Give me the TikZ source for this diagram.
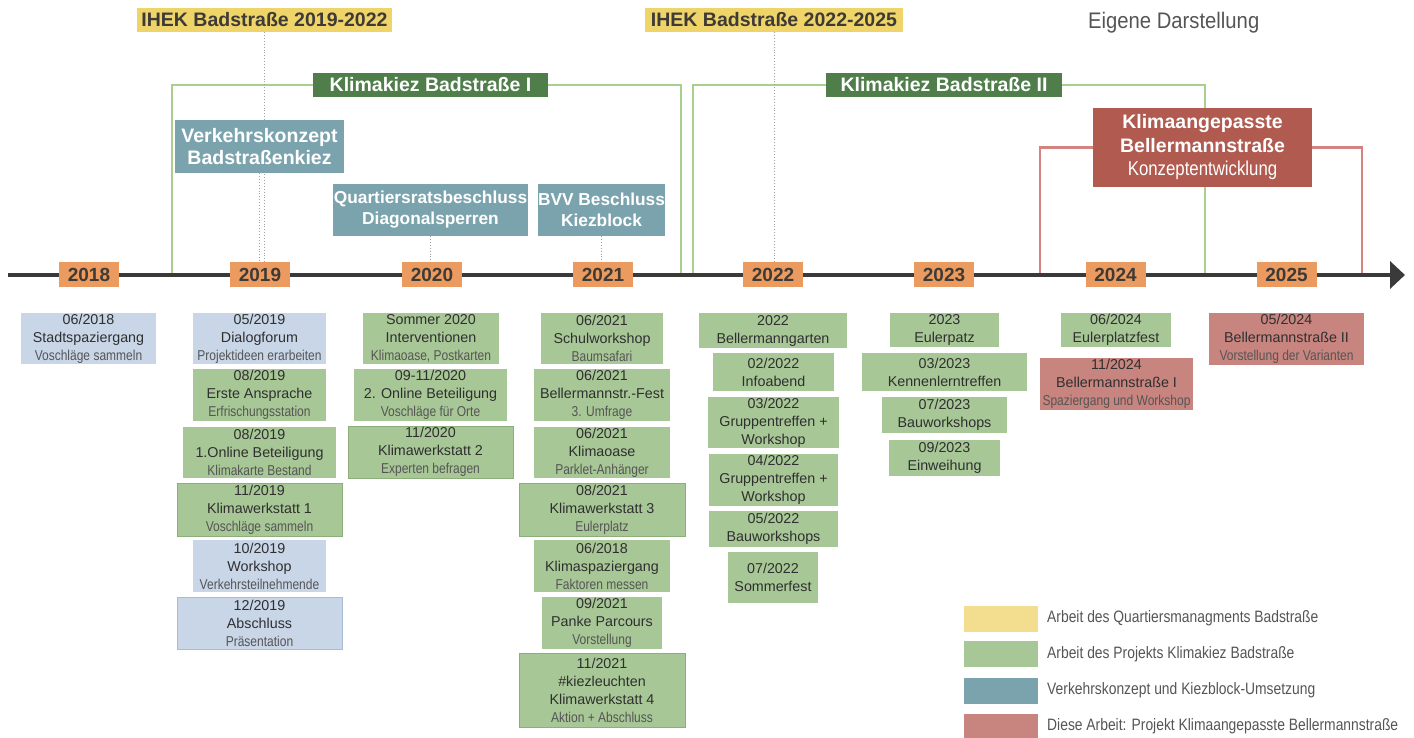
\documentclass[tikz,border=0pt]{standalone}
\usepackage{fontspec}
\setmainfont{Liberation Sans}
\newfontfamily\cond[FakeStretch=0.84]{Liberation Sans}
\newfontfamily\condw[FakeStretch=0.9]{Liberation Sans}
\usetikzlibrary{arrows.meta}
\pgfdeclarelayer{bg}
\pgfsetlayers{bg,main}
\definecolor{evgreen}{HTML}{A8C797}
\definecolor{evgreenbd}{HTML}{8DAE7A}
\definecolor{evblue}{HTML}{C8D6E8}
\definecolor{evbluebd}{HTML}{A9BCD6}
\definecolor{evred}{HTML}{C8847E}
\definecolor{ihekyellow}{HTML}{EFD46A}
\definecolor{legyellow}{HTML}{F2DE8E}
\definecolor{kkdark}{HTML}{4F7E4B}
\definecolor{kline}{HTML}{A9CF8F}
\definecolor{teal}{HTML}{7BA3AE}
\definecolor{kbred}{HTML}{B05A50}
\definecolor{redline}{HTML}{D4837E}
\definecolor{yorange}{HTML}{EB9B5F}
\definecolor{ytxt}{HTML}{3E3A36}
\definecolor{txt}{HTML}{2F2F2F}
\definecolor{subtxt}{HTML}{555555}
\definecolor{tlcol}{HTML}{3A3A3A}
\definecolor{dotcol}{HTML}{A0A0A0}
\newcommand\subl[1]{{\cond\color{subtxt}#1}}
\begin{document}
\begin{tikzpicture}[x=1pt,y=-1pt,
  box/.style={rectangle, draw=none, inner sep=0pt, align=center},
  ev/.style={box, text=txt, font=\fontsize{14.3}{18}\selectfont},
  evg/.style={ev, fill=evgreen},
  evgb/.style={evg, draw=evgreenbd, line width=0.8pt},
  evb/.style={ev, fill=evblue},
  evbb/.style={evb, draw=evbluebd, line width=0.8pt},
  evr/.style={ev, fill=evred},
  yearbox/.style={box, fill=yorange, text=ytxt, font=\bfseries\fontsize{19}{23}\selectfont, minimum width=60pt, minimum height=25pt},
  ihek/.style={box, fill=ihekyellow, text=ytxt, font=\bfseries\fontsize{19.5}{23}\selectfont, minimum height=24pt},
  kk/.style={box, fill=kkdark, text=white, font=\bfseries\fontsize{19.5}{23}\selectfont, minimum height=24pt},
  tealbox/.style={box, fill=teal, text=white, font=\bfseries\fontsize{19.5}{22}\selectfont},
  kline/.style={draw=kline, line width=2.2pt},
  rline/.style={draw=redline, line width=2.2pt},
  dotl/.style={draw=dotcol, dotted, line width=0.9pt},
  legsw/.style={box, minimum width=74pt, minimum height=26pt},
  legtx/.style={anchor=west, inner sep=0pt, text=subtxt, font=\cond\fontsize{16.5}{19}\selectfont}
]
\useasboundingbox (0,0) rectangle (1414,738);

% header boxes
\node[ihek, minimum width=255pt] (ihek1) at (264.5,20) {IHEK Badstraße 2019-2022};
\node[ihek, minimum width=258pt] (ihek2) at (774,20) {IHEK Badstraße 2022-2025};
\node[kk, minimum width=235pt] (kk1) at (430.5,85) {Klimakiez Badstraße I};
\node[kk, minimum width=236pt] (kk2) at (944,85) {Klimakiez Badstraße II};
\node[anchor=west, inner sep=0pt, text=subtxt, font=\condw\fontsize{22.5}{26}\selectfont] (eig) at (1088,23) {Eigene Darstellung};

\node[tealbox, minimum width=169pt, minimum height=53pt] (vk) at (259.5,146.5) {Verkehrskonzept\\Badstraßenkiez};
\node[tealbox, minimum width=195pt, minimum height=52pt, font=\bfseries\fontsize{17.3}{21}\selectfont] (qr) at (430.5,210) {Quartiersratsbeschluss\\Diagonalsperren};
\node[tealbox, minimum width=127pt, minimum height=52pt, font=\bfseries\fontsize{17.3}{21}\selectfont] (bvv) at (601.5,210) {BVV Beschluss\\Kiezblock};
\node[box, fill=kbred, text=white, minimum width=219pt, minimum height=79pt, font=\bfseries\fontsize{19.5}{23.5}\selectfont] (kb) at (1202.5,147.5) {Klimaangepasste\\Bellermannstraße\\{\cond\mdseries\fontsize{20}{23.5}\selectfont Konzeptentwicklung}};

% year boxes
\node[yearbox] (y18) at (89,274.5) {2018};
\node[yearbox] (y19) at (260,274.5) {2019};
\node[yearbox] (y20) at (432,274.5) {2020};
\node[yearbox] (y21) at (603,274.5) {2021};
\node[yearbox] (y22) at (773,274.5) {2022};
\node[yearbox] (y23) at (944,274.5) {2023};
\node[yearbox] (y24) at (1115.5,274.5) {2024};
\node[yearbox] (y25) at (1286.5,274.5) {2025};

% timeline coordinates
\coordinate (tl0) at (8,275);
\coordinate (tl1) at (1405,275);
\coordinate (k1l) at (172,275);
\coordinate (k1r) at (681,275);
\coordinate (k2l) at (693,275);
\coordinate (k2r) at (1205,275);
\coordinate (rl) at (1040,275);
\coordinate (rr) at (1362,275);

% events 2018
\node[evb, minimum width=135pt, minimum height=51pt] (e18a) at (88.5,338.5) {06/2018\\Stadtspaziergang\\\subl{Voschläge sammeln}};
% 2019
\node[evb, minimum width=133pt, minimum height=51pt] (e19a) at (259.5,338.5) {05/2019\\Dialogforum\\\subl{Projektideen erarbeiten}};
\node[evg, minimum width=133pt, minimum height=52pt] (e19b) at (259.5,395) {08/2019\\Erste Ansprache\\\subl{Erfrischungsstation}};
\node[evg, minimum width=153pt, minimum height=51pt] (e19c) at (259.5,452.5) {08/2019\\1.Online Beteiligung\\\subl{Klimakarte Bestand}};
\node[evgb, minimum width=165pt, minimum height=53pt] (e19d) at (259.5,509.5) {11/2019\\Klimawerkstatt 1\\\subl{Voschläge sammeln}};
\node[evb, minimum width=133pt, minimum height=52pt] (e19e) at (259.5,566) {10/2019\\Workshop\\\subl{Verkehrsteilnehmende}};
\node[evbb, minimum width=165pt, minimum height=52pt] (e19f) at (259.5,623) {12/2019\\Abschluss\\\subl{Präsentation}};
% 2020
\node[evg, minimum width=136pt, minimum height=51pt] (e20a) at (431,338.5) {Sommer 2020\\Interventionen\\\subl{Klimaoase, Postkarten}};
\node[evg, minimum width=153pt, minimum height=52pt] (e20b) at (430.5,395) {09-11/2020\\2. Online Beteiligung\\\subl{Voschläge für Orte}};
\node[evgb, minimum width=165pt, minimum height=52pt] (e20c) at (430.5,452) {11/2020\\Klimawerkstatt 2\\\subl{Experten befragen}};
% 2021
\node[evg, minimum width=122pt, minimum height=51pt] (e21a) at (602,338.5) {06/2021\\Schulworkshop\\\subl{Baumsafari}};
\node[evg, minimum width=136pt, minimum height=52pt] (e21b) at (602,395) {06/2021\\Bellermannstr.-Fest\\\subl{3. Umfrage}};
\node[evg, minimum width=136pt, minimum height=51pt] (e21c) at (602,452.5) {06/2021\\Klimaoase\\\subl{Parklet-Anhänger}};
\node[evgb, minimum width=166pt, minimum height=53pt] (e21d) at (602,509.5) {08/2021\\Klimawerkstatt 3\\\subl{Eulerplatz}};
\node[evg, minimum width=136pt, minimum height=52pt] (e21e) at (602,566) {06/2018\\Klimaspaziergang\\\subl{Faktoren messen}};
\node[evg, minimum width=120pt, minimum height=52pt] (e21f) at (602,623) {09/2021\\Panke Parcours\\\subl{Vorstellung}};
\node[evgb, minimum width=166pt, minimum height=74pt] (e21g) at (602,690) {11/2021\\\#kiezleuchten\\Klimawerkstatt 4\\\subl{Aktion + Abschluss}};
% 2022
\node[evg, minimum width=148pt, minimum height=35pt] (e22a) at (773,330.5) {2022\\Bellermanngarten};
\node[evg, minimum width=121pt, minimum height=38pt] (e22b) at (773.5,372) {02/2022\\Infoabend};
\node[evg, minimum width=131pt, minimum height=51pt] (e22c) at (773.5,422.5) {03/2022\\Gruppentreffen +\\Workshop};
\node[evg, minimum width=129pt, minimum height=52pt] (e22d) at (773.5,480) {04/2022\\Gruppentreffen +\\Workshop};
\node[evg, minimum width=129pt, minimum height=36pt] (e22e) at (773.5,529) {05/2022\\Bauworkshops};
\node[evg, minimum width=90pt, minimum height=51pt] (e22f) at (773,577.5) {07/2022\\Sommerfest};
% 2023
\node[evg, minimum width=109pt, minimum height=34pt] (e23a) at (944.5,330) {2023\\Eulerpatz};
\node[evg, minimum width=165pt, minimum height=38pt] (e23b) at (944.5,372) {03/2023\\Kennenlerntreffen};
\node[evg, minimum width=125pt, minimum height=36pt] (e23c) at (944.5,415) {07/2023\\Bauworkshops};
\node[evg, minimum width=111pt, minimum height=36pt] (e23d) at (944.5,458) {09/2023\\Einweihung};
% 2024
\node[evg, minimum width=110pt, minimum height=34pt] (e24a) at (1116,330) {06/2024\\Eulerplatzfest};
\node[evr, minimum width=153pt, minimum height=52pt] (e24b) at (1116.5,384) {11/2024\\Bellermannstraße I\\\subl{Spaziergang und Workshop}};
% 2025
\node[evr, minimum width=155pt, minimum height=52pt] (e25a) at (1286.5,339) {05/2024\\Bellermannstraße II\\\subl{Vorstellung der Varianten}};

% legend
\node[legsw, fill=legyellow] (l1) at (1001,618.5) {};
\node[legsw, fill=evgreen] (l2) at (1001,654) {};
\node[legsw, fill=teal] (l3) at (1001,690.5) {};
\node[legsw, fill=evred] (l4) at (1001,726.5) {};
\node[legtx] (lt1) at (1047,618.5) {Arbeit des Quartiersmanagments Badstraße};
\node[legtx] (lt2) at (1047,654) {Arbeit des Projekts Klimakiez Badstraße};
\node[legtx] (lt3) at (1047,690.5) {Verkehrskonzept und Kiezblock-Umsetzung};
\node[legtx] (lt4) at (1047,726.5) {Diese Arbeit: Projekt Klimaangepasste Bellermannstraße};

\begin{pgfonlayer}{bg}
  % brackets
  \draw[kline] (k1l) |- (kk1.west);
  \draw[kline] (kk1.east) -| (k1r);
  \draw[kline] (k2l) |- (kk2.west);
  \draw[kline] (kk2.east) -| (k2r);
  \draw[rline] (rl) |- (kb.west);
  \draw[rline] (kb.east) -| (rr);
  % dotted links
  \draw[dotl] (ihek1.south) -- (ihek1.south |- y19.north);
  \draw[dotl] (vk.south) -- (vk.south |- y19.north);
  \draw[dotl] (qr.south) -- (qr.south |- y20.north);
  \draw[dotl] (bvv.south) -- (bvv.south |- y21.north);
  \draw[dotl] (ihek2.south) -- (ihek2.south |- y22.north);
  % timeline
  \draw[draw=tlcol, line width=4pt, -{Triangle[length=15pt,width=27pt]}] (tl0) -- (tl1);
\end{pgfonlayer}
\end{tikzpicture}
\end{document}
